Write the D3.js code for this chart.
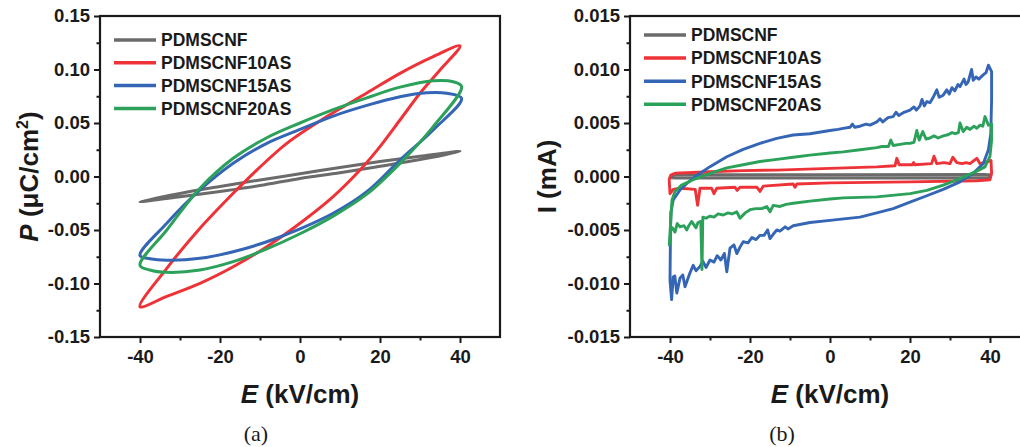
<!DOCTYPE html>
<html><head><meta charset="utf-8">
<script src="https://cdn.jsdelivr.net/npm/d3@7"></script>
<style>body{margin:0;background:#fff} svg{display:block}</style>
</head><body><svg id="c" width="1020" height="447"></svg>
<script>
// ---------- categories / labels ----------
const seriesNames = ["PDMSCNF", "PDMSCNF10AS", "PDMSCNF15AS", "PDMSCNF20AS"];
const seriesColors = ["#6b6b6b", "#ee3338", "#3565b5", "#2ba15a"];
const xTicks = [-40, -20, 0, 20, 40];
const xMinorTicks = [-30, -10, 10, 30];
const peYTicks = [-0.15, -0.10, -0.05, 0, 0.05, 0.10, 0.15];
const peYTickLabels = ["-0.15", "-0.10", "-0.05", "0.00", "0.05", "0.10", "0.15"];
const peYMinorTicks = [-0.125, -0.075, -0.025, 0.025, 0.075, 0.125];
const ieYTicks = [-0.015, -0.010, -0.005, 0, 0.005, 0.010, 0.015];
const ieYTickLabels = ["-0.015", "-0.010", "-0.005", "0.000", "0.005", "0.010", "0.015"];
const ieYMinorTicks = [-0.0125, -0.0075, -0.0025, 0.0025, 0.0075, 0.0125];

// ---------- (a) P-E loops: [E kV/cm, P uC/cm2] ----------
const peGrayUpper = [[-40,-0.0235],[-30,-0.0158],[-20,-0.0093],[-10,-0.0032],[0,0.0025],[10,0.0085],[20,0.014],[30,0.019],[40,0.0235]];
const peGrayLower = [[-40,-0.0235],[-30,-0.019],[-20,-0.014],[-10,-0.0085],[0,-0.0018],[10,0.0035],[20,0.0095],[30,0.0158],[40,0.0235]];
const peRedUpper = [[-40,-0.1217],[-33.3,-0.0858],[-25,-0.0484],[-16.7,-0.0157],[-10.8,0.006],[-3.3,0.031],[6.7,0.056],[16.7,0.078],[25,0.0964],[33.3,0.112],[40,0.122]];
const peRedLower = [[-40,-0.1217],[-33.3,-0.112],[-25,-0.0998],[-16.7,-0.0843],[-8.3,-0.0656],[0,-0.0437],[8.3,-0.0188],[15,0.006],[20,0.0279],[25,0.0528],[30,0.0778],[35,0.0995],[40,0.122]];
const peBlueUpper = [[-40,-0.0738],[-33.3,-0.0437],[-25,-0.0126],[-16.7,0.0123],[-8.3,0.031],[0,0.044],[8.3,0.0565],[16.7,0.0665],[25,0.0746],[31.7,0.0783],[36.7,0.0778],[40.4,0.073]];
const peBlueLower = [[-40,-0.0738],[-37.5,-0.0768],[-33.3,-0.0782],[-25,-0.0765],[-16.7,-0.0703],[-8.3,-0.061],[0,-0.049],[8.3,-0.0344],[16.7,-0.0142],[25,0.0154],[33.3,0.0435],[40.4,0.073]];
const peGreenUpper = [[-40,-0.083],[-33.3,-0.05],[-25,-0.011],[-16.7,0.017],[-8.3,0.0362],[0,0.05],[8.3,0.0625],[16.7,0.0735],[25,0.0835],[33.3,0.0895],[38.3,0.0886],[40.4,0.084]];
const peGreenLower = [[-40,-0.083],[-37.5,-0.0874],[-33.3,-0.0896],[-25,-0.0874],[-16.7,-0.0796],[-8.3,-0.0677],[0,-0.0535],[8.3,-0.037],[16.7,-0.0165],[25,0.0123],[33.3,0.0466],[40.4,0.084]];

// ---------- (b) I-E loops: [E kV/cm, I mA] (traversal order) ----------
const ieGrayLoop = [[-40,-0.0001],[-39.6,0.0001],[-38.5,0.00016],[0,0.00016],[39,0.00018],[40,0.00016],[40.1,0.0],[39.6,-0.00014],[0,-0.00014],[-38.5,-0.00014],[-39.6,-0.00013]];
const ieRedUpper = [[-40,-0.0016],[-40.2,-0.0003],[-39.8,0.00014],[-38.75,0.0003],[-30,0.00045],[-21.7,0.00055],[-13.3,0.0006],[0,0.00076],[11.7,0.0009],[16.25,0.001],[16.7,0.0017],[17.3,0.0011],[20.6,0.0011],[20.9,0.0013],[21.2,0.0011],[25.4,0.0012],[26,0.0019],[26.7,0.0012],[28.5,0.0013],[30,0.0012],[30.7,0.0018],[31.7,0.0013],[33,0.0012],[34,0.0013],[35,0.0012],[36.7,0.0017],[37.5,0.0012],[39.6,0.0014],[40.25,0.0015]];
const ieRedLower = [[40.4,0.0003],[40,-0.0003],[36.7,-0.0004],[20,-0.0005],[0,-0.0006],[-8.3,-0.0007],[-8.75,-0.001],[-9.2,-0.0007],[-16.7,-0.0009],[-17.5,-0.0014],[-18.3,-0.001],[-22.5,-0.001],[-23.2,-0.0013],[-23.75,-0.001],[-28.3,-0.0011],[-29,-0.0016],[-29.6,-0.0011],[-32.5,-0.0011],[-33.1,-0.0027],[-33.7,-0.0012],[-37.5,-0.0011],[-39.2,-0.0012],[-39.8,-0.0015]];
const ieBlueUpper = [[-39.9,-0.006],[-39.8,-0.0034],[-39.2,-0.0022],[-37.5,-0.00126],[-35.8,-0.00064],[-33.3,0.0001],[-30,0.00092],[-25.8,0.00185],[-21.7,0.00254],[-17.5,0.0031],[-13.3,0.00357],[-9.2,0.00388],[-5,0.004],[0,0.0043],[2,0.0044],[3.3,0.0045],[5,0.0046],[5.6,0.0049],[6.2,0.0046],[7.5,0.0047],[9,0.0049],[10,0.0048],[11.7,0.0051],[12.5,0.0054],[13.2,0.0051],[14.5,0.0055],[15.8,0.0056],[16.5,0.006],[17.2,0.0057],[18.5,0.006],[20,0.0062],[21,0.0065],[21.6,0.0062],[22.5,0.0066],[23,0.0072],[23.6,0.0066],[24.2,0.007],[25,0.0069],[25.8,0.0074],[26.7,0.0081],[27.3,0.0074],[28.3,0.0076],[29.2,0.0081],[29.8,0.0077],[30.5,0.0083],[31.2,0.008],[32,0.0086],[32.5,0.0084],[33.5,0.0091],[34,0.0086],[34.5,0.0088],[35.4,0.01],[35.8,0.009],[36.5,0.0093],[37.2,0.0091],[38.3,0.0095],[39,0.0097],[39.6,0.0104],[40.4,0.0098]];
const ieBlueLower = [[40.4,0.0072],[40.2,0.004],[39.6,0.0025],[38.3,0.0012],[35.8,0.0003],[32.5,-0.0005],[28.3,-0.0012],[24.2,-0.0018],[20,-0.0024],[15.8,-0.003],[11.7,-0.0034],[7.5,-0.0038],[0,-0.0041],[-5,-0.0043],[-9.2,-0.0046],[-10.5,-0.0049],[-11.2,-0.0047],[-12.5,-0.0051],[-13.3,-0.005],[-14.2,-0.0054],[-15,-0.0058],[-15.6,-0.005],[-16.5,-0.0055],[-17.5,-0.0055],[-18.5,-0.0059],[-19.5,-0.0057],[-20.5,-0.0062],[-21.7,-0.0061],[-22.5,-0.0066],[-23.3,-0.0072],[-24,-0.0064],[-25,-0.0067],[-25.8,-0.0089],[-26.4,-0.0072],[-27.3,-0.0078],[-28.2,-0.0074],[-29,-0.008],[-30,-0.0078],[-31,-0.0085],[-31.8,-0.0079],[-32.5,-0.0084],[-33.5,-0.0088],[-34.2,-0.0083],[-35,-0.009],[-36.25,-0.0103],[-36.8,-0.0092],[-37.5,-0.0095],[-38.3,-0.0109],[-38.8,-0.0093],[-39.2,-0.0094],[-39.6,-0.0115],[-40,-0.0097]];
const ieGreenUpper = [[-40.2,-0.0064],[-39.8,-0.0041],[-39.5,-0.0022],[-38.75,-0.0014],[-37.1,-0.0008],[-34.2,-0.0003],[-30,0.0003],[-25.8,0.0008],[-21.7,0.0011],[-17.5,0.0014],[-13.3,0.0016],[-9.2,0.0018],[-5,0.002],[0,0.0022],[3.3,0.0023],[7.5,0.0025],[11.7,0.0027],[13,0.0028],[14.6,0.0028],[15.2,0.0034],[15.8,0.0029],[17.5,0.003],[19,0.0031],[20,0.0031],[21,0.0032],[21.7,0.0043],[22.3,0.0034],[23.2,0.0042],[24,0.0035],[25,0.0036],[26,0.0038],[27,0.0036],[28.3,0.0038],[29.5,0.0039],[30.5,0.0041],[31.3,0.004],[32.1,0.0041],[32.5,0.005],[33.3,0.0042],[34.2,0.0046],[35,0.0044],[36,0.0047],[36.7,0.0045],[37.5,0.0048],[38.2,0.0047],[38.75,0.0056],[39.6,0.0048],[40.4,0.0049]];
const ieGreenLower = [[40.4,0.0034],[40,0.0019],[38.75,0.0009],[36.7,0.0005],[32.5,-0.0002],[28.3,-0.0008],[24.2,-0.0013],[20,-0.0016],[11.7,-0.0019],[3.3,-0.002],[0,-0.0021],[-5,-0.0023],[-9.2,-0.0025],[-11,-0.0026],[-12.5,-0.0028],[-14.2,-0.0027],[-15,-0.0033],[-15.8,-0.0028],[-17,-0.003],[-18.5,-0.003],[-20,-0.0031],[-21.2,-0.0034],[-22.5,-0.0039],[-23.3,-0.0033],[-24.5,-0.0035],[-25.5,-0.0034],[-26.7,-0.0036],[-28,-0.0035],[-29,-0.0038],[-30,-0.0037],[-31,-0.0039],[-31.8,-0.0038],[-32,-0.0087],[-32.3,-0.0042],[-33,-0.0043],[-33.5,-0.0048],[-34.6,-0.0042],[-35.3,-0.0046],[-35.8,-0.005],[-36.5,-0.0046],[-37.5,-0.0047],[-38.2,-0.0044],[-38.75,-0.0052],[-39.4,-0.0048],[-39.8,-0.005]];

// ---------- drawing ----------
const svg = d3.select("#c");
const FONT = "'Liberation Sans', Arial, Helvetica, sans-serif";
const INK = "#1a1a1a";

function panel(cfg) {
  const x = d3.scaleLinear().domain([-50, 50]).range([cfg.left, cfg.left + 400]);
  const y = d3.scaleLinear().domain(cfg.yDomain).range([337, 16]);
  const g = svg.append("g");

  cfg.loops.forEach((pts, i) => {
    g.append("path")
      .attr("d", d3.line().x(d => x(d[0])).y(d => y(d[1])).curve(cfg.curve)(pts))
      .attr("fill", "none").attr("stroke", seriesColors[i])
      .attr("stroke-width", cfg.lw).attr("stroke-linejoin", "round");
  });

  const styleAxis = (sel) => {
    sel.select(".domain").remove();
    sel.selectAll(".tick line").attr("stroke", INK).attr("stroke-width", 2);
    sel.selectAll("text").attr("fill", INK).style("font-family", FONT)
      .style("font-weight", "bold").style("font-size", "18.5px");
  };
  g.append("g").attr("transform", "translate(0,337)")
    .call(d3.axisBottom(x).tickValues(xTicks).tickFormat(d => String(d)).tickSize(6).tickPadding(7))
    .call(styleAxis);
  g.append("g").attr("transform", "translate(0,337)")
    .call(d3.axisBottom(x).tickValues(xMinorTicks).tickFormat("").tickSize(3.5))
    .call(styleAxis);
  g.append("g").attr("transform", `translate(${cfg.left},0)`)
    .call(d3.axisLeft(y).tickValues(cfg.yTicks).tickFormat((d, i) => cfg.yLabels[i]).tickSize(6).tickPadding(4))
    .call(styleAxis);
  g.append("g").attr("transform", `translate(${cfg.left},0)`)
    .call(d3.axisLeft(y).tickValues(cfg.yMinor).tickFormat("").tickSize(3.5))
    .call(styleAxis);

  g.append("rect").attr("x", cfg.left).attr("y", 16).attr("width", 400).attr("height", 321)
    .attr("fill", "none").attr("stroke", INK).attr("stroke-width", 2.2);

  seriesNames.forEach((n, i) => {
    const ly = cfg.legY + i * cfg.legDy;
    g.append("line").attr("x1", cfg.left + cfg.legX).attr("x2", cfg.left + cfg.legX + 42)
      .attr("y1", ly).attr("y2", ly).attr("stroke", seriesColors[i]).attr("stroke-width", 3.5);
    g.append("text").attr("x", cfg.left + cfg.legX + 47).attr("y", ly).attr("dy", "0.36em")
      .attr("fill", INK).style("font-family", FONT).style("font-weight", "bold").style("font-size", "17.5px")
      .text(n);
  });

  const xt = g.append("text").attr("x", cfg.left + 200).attr("y", 403).attr("text-anchor", "middle")
    .attr("fill", INK).style("font-family", FONT).style("font-weight", "bold").style("font-size", "26px");
  xt.append("tspan").attr("font-style", "italic").text("E");
  xt.append("tspan").text(" (kV/cm)");

  const yt = g.append("text").attr("transform", `translate(${cfg.yTitleX},176.5) rotate(-90)`)
    .attr("text-anchor", "middle").attr("fill", INK)
    .style("font-family", FONT).style("font-weight", "bold").style("font-size", "26px");
  cfg.yTitle(yt);

  svg.append("text").attr("x", cfg.capX).attr("y", 441).attr("text-anchor", "middle")
    .attr("fill", INK).style("font-family", "'Liberation Serif', 'Times New Roman', serif")
    .style("font-size", "22px").text(cfg.caption);
}

const closedLoop = (up, lo) => up.concat(lo.slice(1, -1).reverse());

panel({
  left: 100, yDomain: [-0.15, 0.15], yTicks: peYTicks, yLabels: peYTickLabels, yMinor: peYMinorTicks,
  curve: d3.curveCatmullRomClosed.alpha(0.5), lw: 3,
  loops: [closedLoop(peGrayUpper, peGrayLower), closedLoop(peRedUpper, peRedLower),
          closedLoop(peBlueUpper, peBlueLower), closedLoop(peGreenUpper, peGreenLower)],
  legX: 14, legY: 40, legDy: 22.8, yTitleX: 38, capX: 256, caption: "(a)",
  yTitle: t => {
    t.append("tspan").attr("font-style", "italic").text("P");
    t.append("tspan").text(" (\u03BCC/cm");
    t.append("tspan").attr("dy", -10).style("font-size", "16px").text("2");
    t.append("tspan").attr("dy", 10).text(")");
  }
});

panel({
  left: 630, yDomain: [-0.015, 0.015], yTicks: ieYTicks, yLabels: ieYTickLabels, yMinor: ieYMinorTicks,
  curve: d3.curveLinearClosed, lw: 2.9,
  loops: [ieGrayLoop, ieRedUpper.concat(ieRedLower), ieBlueUpper.concat(ieBlueLower), ieGreenUpper.concat(ieGreenLower)],
  legX: 14, legY: 35, legDy: 23.1, yTitleX: 556, capX: 782, caption: "(b)",
  yTitle: t => { t.text("I (mA)"); }
});
</script></body></html>
